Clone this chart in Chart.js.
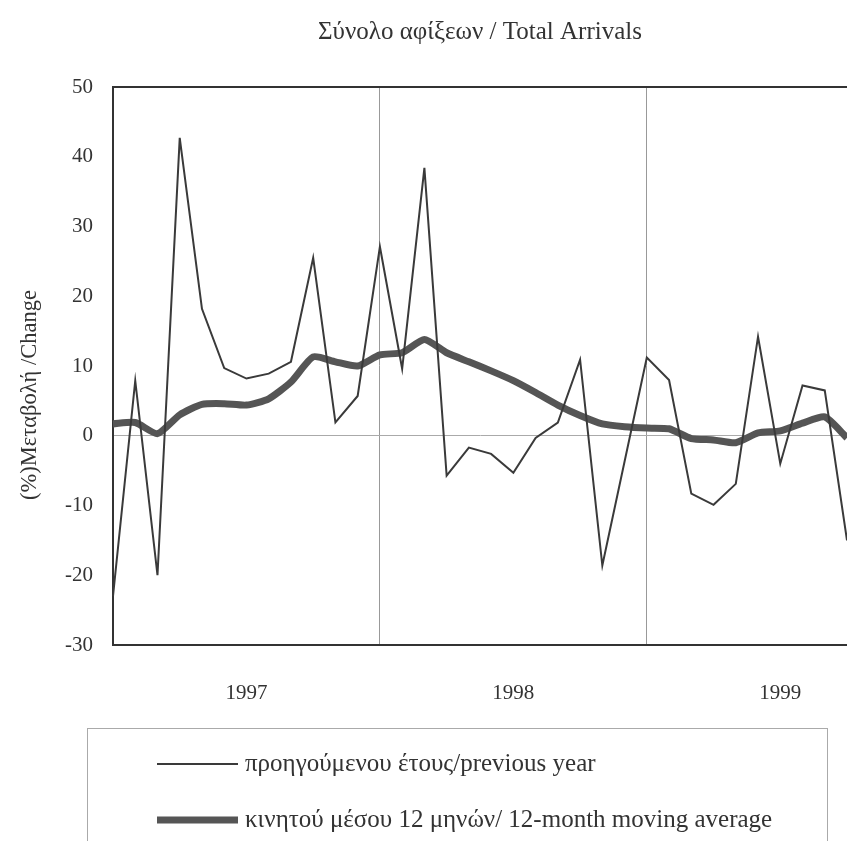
<!DOCTYPE html>
<html>
<head>
<meta charset="utf-8">
<script src="https://cdn.jsdelivr.net/npm/chart.js"></script>
<style>
html, body { margin: 0; padding: 0; background: #fff; }
canvas { display: block; }
</style>
</head>
<body>
<canvas id="arrivals" width="847" height="841"></canvas>
<script>
const months = [
    '1997-01', '1997-02', '1997-03', '1997-04', '1997-05', '1997-06',
    '1997-07', '1997-08', '1997-09', '1997-10', '1997-11', '1997-12',
    '1998-01', '1998-02', '1998-03', '1998-04', '1998-05', '1998-06',
    '1998-07', '1998-08', '1998-09', '1998-10', '1998-11', '1998-12',
    '1999-01', '1999-02', '1999-03', '1999-04', '1999-05', '1999-06',
    '1999-07', '1999-08', '1999-09', '1999-10',
];
const previousYear = [
    -23, 7.9, -20, 42.7, 18.2, 9.7, 8.2, 8.9, 10.6, 25.5, 1.9, 5.7,
    27.1, 9.6, 38.4, -5.7, -1.7, -2.6, -5.3, -0.3, 1.9, 10.9, -18.6, -3.7,
    11.2, 8.0, -8.3, -9.9, -6.9, 14.2, -4.0, 7.2, 6.5, -15,
];
const movingAverage = [
    1.7, 1.9, 0.3, 3.0, 4.5, 4.6, 4.4, 5.3, 7.7, 11.3, 10.6, 10.0,
    11.6, 11.9, 13.8, 11.9, 10.6, 9.3, 7.9, 6.2, 4.4, 2.9, 1.7, 1.3,
    1.1, 1.0, -0.4, -0.6, -1.0, 0.4, 0.7, 1.8, 2.7, -0.3,
];
const yearLabels = ['1997', '1998', '1999'];
const yTicks = [-30, -20, -10, 0, 10, 20, 30, 40, 50];
const seriesNames = [
    'προηγούμενου έτους/previous year',
    'κινητού μέσου 12 μηνών/ 12-month moving average',
];

const serif = "'Liberation Serif', 'DejaVu Serif', serif";
const ink = '#333';

// frame top edge, rotated y title and the boxed legend under the plot
const frameAndLegend = {
    id: 'frameAndLegend',
    afterDraw(chart) {
        const ctx = chart.ctx;
        const a = chart.chartArea;
        ctx.save();
        ctx.strokeStyle = ink;
        ctx.lineWidth = 2;
        ctx.beginPath();
        ctx.moveTo(a.left - 1, a.top);
        ctx.lineTo(a.right, a.top);
        ctx.stroke();

        ctx.fillStyle = ink;
        ctx.font = '22.5px ' + serif;
        ctx.textAlign = 'center';
        ctx.textBaseline = 'middle';
        ctx.save();
        ctx.translate(30, 395);
        ctx.rotate(-Math.PI / 2);
        ctx.fillText('(%)Μεταβολή /Change', 0, 0);
        ctx.restore();

        ctx.strokeStyle = '#aaa';
        ctx.lineWidth = 1;
        ctx.strokeRect(87.5, 728.5, 740, 200);

        const rows = [764, 820];
        chart.data.datasets.forEach((ds, i) => {
            ctx.strokeStyle = ds.borderColor;
            ctx.lineWidth = ds.borderWidth;
            ctx.beginPath();
            ctx.moveTo(157, rows[i]);
            ctx.lineTo(238, rows[i]);
            ctx.stroke();
            ctx.fillStyle = ink;
            ctx.font = '25px ' + serif;
            ctx.textAlign = 'left';
            ctx.fillText(ds.label, 245, rows[i]);
        });
        ctx.restore();
    }
};

new Chart(document.getElementById('arrivals'), {
    type: 'line',
    data: {
        labels: months,
        datasets: [
            {
                label: seriesNames[0],
                data: previousYear,
                borderColor: '#3a3a3a',
                borderWidth: 2,
                pointRadius: 0,
                tension: 0,
            },
            {
                label: seriesNames[1],
                data: movingAverage,
                borderColor: '#555',
                borderWidth: 7,
                pointRadius: 0,
                tension: 0.2,
            }
        ],
    },
    options: {
        responsive: false,
        animation: false,
        layout: { padding: { top: 0, left: 0, right: 0, bottom: 126 } },
        plugins: {
            legend: { display: false },
            tooltip: { enabled: false },
            title: {
                display: true,
                fullSize: false,
                text: 'Σύνολο αφίξεων / Total Arrivals',
                color: ink,
                font: { family: serif, size: 25, weight: 'normal' },
                padding: { top: 17, bottom: 40 },
            },
        },
        scales: {
            x: {
                offset: false,
                grid: {
                    drawTicks: false,
                    lineWidth: 1,
                    color: (c) => {
                        const m = months[c.index];
                        return m && m.endsWith('-01') && c.index > 0 ? '#999' : 'rgba(0,0,0,0)';
                    },
                },
                border: { display: true, color: ink, width: 2 },
                ticks: {
                    autoSkip: false,
                    maxRotation: 0,
                    padding: 36,
                    color: ink,
                    font: { family: serif, size: 21 },
                    callback: (v, i) => {
                        const m = months[i];
                        return m.endsWith('-07') && yearLabels.includes(m.slice(0, 4)) ? m.slice(0, 4) : '';
                    },
                },
                afterFit: (s) => {
                    s.height = 70;
                    s.paddingLeft = 0;
                    s.paddingRight = 0;
                },
            },
            y: {
                min: yTicks[0],
                max: yTicks[yTicks.length - 1],
                grid: {
                    drawTicks: false,
                    color: (c) => c.tick && c.tick.value === 0 ? '#aaa' : 'rgba(0,0,0,0)',
                },
                border: { display: true, color: ink, width: 2 },
                ticks: {
                    stepSize: 10,
                    padding: 20,
                    color: ink,
                    font: { family: serif, size: 21 },
                },
                afterFit: (s) => { s.width = 113; },
            },
        },
    },
    plugins: [frameAndLegend],
});
</script>
</body>
</html>
